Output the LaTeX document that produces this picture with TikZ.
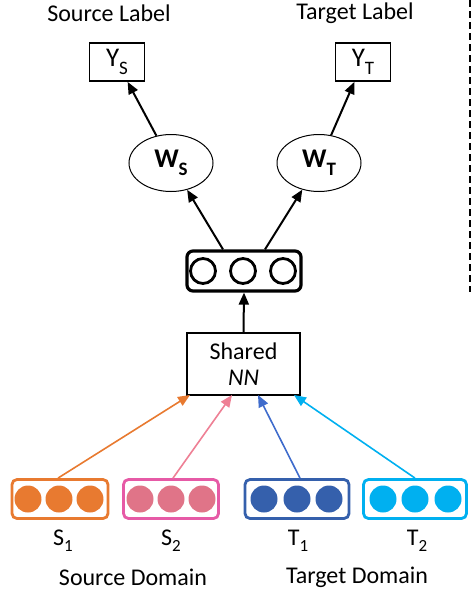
\documentclass[tikz,border=0pt]{standalone}
\usepackage{fontspec}
\setmainfont{Carlito}
\usetikzlibrary{arrows.meta,shapes.geometric}
\definecolor{corange}{HTML}{E87A30}
\definecolor{cpinkb}{HTML}{E65AA6}
\definecolor{cpink}{HTML}{E07488}
\definecolor{cpinka}{HTML}{EE8095}
\definecolor{cblue}{HTML}{3560AC}
\definecolor{cbluea}{HTML}{3F6CCC}
\definecolor{clight}{HTML}{00B0F0}
\newcommand{\mysubx}[1]{\raisebox{-0.3em}{\fontsize{19}{19}\selectfont #1}}
\newcommand{\mysuby}[1]{\raisebox{-0.25em}{\fontsize{17}{17}\selectfont #1}}
\begin{document}
\begin{tikzpicture}[x=1pt,y=-1pt,
  lbl/.style={font=\fontsize{24}{26}\selectfont, inner sep=0},
  ybox/.style={draw, line width=1.8pt, minimum width=55pt, minimum height=38pt, inner sep=0, font=\fontsize{27}{27}\selectfont},
  wel/.style={draw, ellipse, line width=1pt, minimum width=84pt, minimum height=57pt, inner sep=0, font=\bfseries\fontsize{27}{27}\selectfont},
  arr/.style={-{Triangle[length=12pt,width=10pt]}, line width=2pt},
  inbox/.style={draw, rounded corners=5pt, line width=2.8pt, minimum height=39pt, inner sep=0},
  dot/.style={circle, minimum size=27pt, inner sep=0}
]
\useasboundingbox (0,0) rectangle (472,590);
\node[lbl] (sl) at (109,13) {Source Label};
\node[lbl] (tl) at (355,13) {Target Label};
\node[ybox] (ys) at (117,62) {Y\mysubx{S}};
\node[ybox] (yt) at (363,62) {Y\mysubx{T}};
\node[wel] (ws) at (171,163) {W\mysubx{S}};
\node[wel] (wt) at (319,163) {W\mysubx{T}};
\node[draw, rounded corners=6pt, line width=3.2pt, minimum width=114pt, minimum height=40pt, inner sep=0] (hid) at (244,271) {};
\foreach \i/\x in {1/203,2/243,3/283}
  \node[draw, circle, line width=2.8pt, minimum size=25pt, inner sep=0] (h\i) at (\x,271) {};
\node[draw, line width=1.8pt, minimum width=113pt, minimum height=62pt, inner sep=0, align=center, font=\fontsize{24}{26}\selectfont] (nn) at (243.5,364) {Shared\\\textit{NN}};
% input boxes
\node[inbox, draw=corange, minimum width=96pt] (s1) at (60,499) {};
\node[inbox, draw=cpinkb, minimum width=95pt] (s2) at (171,499) {};
\node[inbox, draw=cblue, minimum width=104pt] (t1) at (297,499) {};
\node[inbox, draw=clight, minimum width=103pt] (t2) at (415,499) {};
\foreach \x in {28,59,90} \node[dot, fill=corange] at (\x,499) {};
\foreach \x in {140,171,202} \node[dot, fill=cpink] at (\x,499) {};
\foreach \x in {264,297,329} \node[dot, fill=cblue] at (\x,499) {};
\foreach \x in {383,415,448} \node[dot, fill=clight] at (\x,499) {};
% arrows
\coordinate (p1) at (190,395);
\coordinate (p2) at (232,395);
\coordinate (p3) at (258,395);
\coordinate (p4) at (294,395);
\draw[arr, draw=corange, fill=corange, line width=1.6pt] (s1.north) ++(-2,0) -- (p1);
\draw[arr, draw=cpinka, fill=cpinka, line width=1.6pt] (s2.north) ++(2,0) -- (p2);
\draw[arr, draw=cbluea, fill=cbluea, line width=1.6pt] (t1.north) ++(3,0) -- (p3);
\draw[arr, draw=clight, fill=clight, line width=1.6pt] (t2.north) -- (p4);
\draw[arr] (nn.north) -- (hid.south);
\draw[arr] (hid.north) ++(-21,0) -- (ws);
\draw[arr] (hid.north) ++(21,0) -- (wt);
\draw[arr] (ws) -- (ys);
\draw[arr] (wt) -- (yt);
% labels
\node[lbl] (ls1) at (63,541) {S\mysuby{1}};
\node[lbl] (ls2) at (171,541) {S\mysuby{2}};
\node[lbl] (lt1) at (298,541) {T\mysuby{1}};
\node[lbl] (lt2) at (417,541) {T\mysuby{2}};
\node[lbl] (sd) at (133,577) {Source Domain};
\node[lbl] (td) at (357,577) {Target Domain};
\coordinate (da) at (470,0);
\coordinate (db) at (470,292);
\draw[line width=2pt, dash pattern=on 7pt off 4pt] (da) -- (db);
\end{tikzpicture}
\end{document}
